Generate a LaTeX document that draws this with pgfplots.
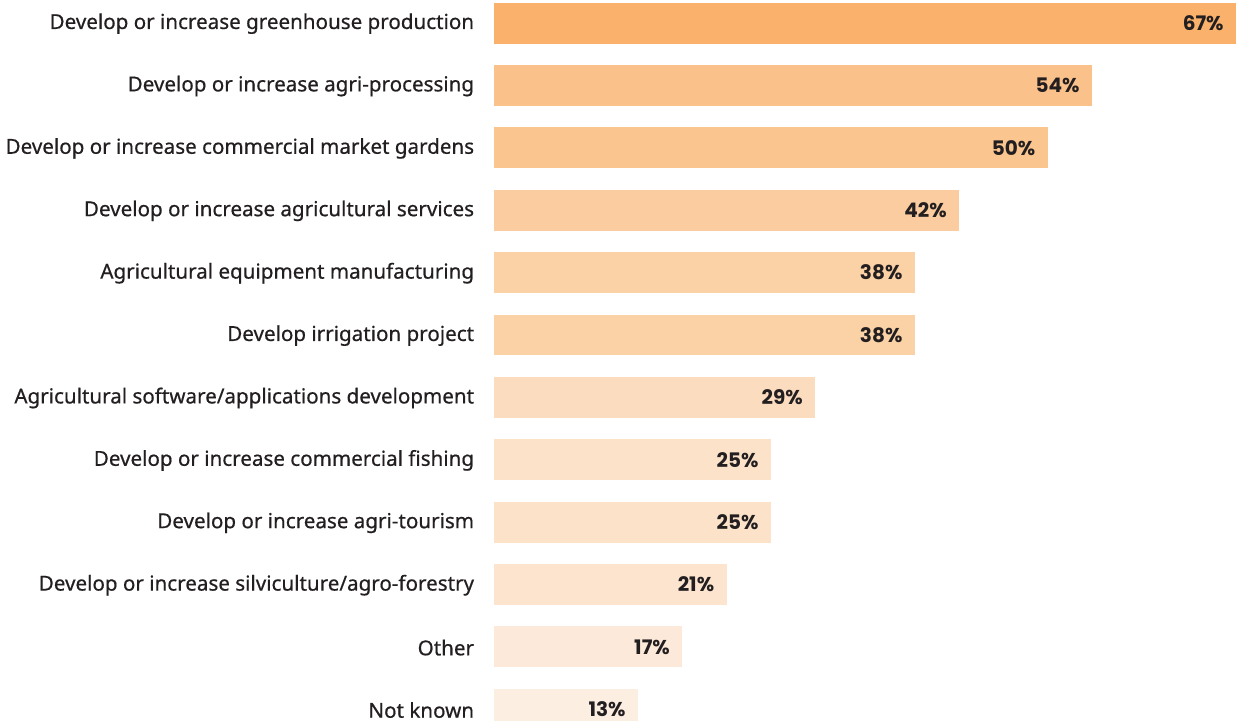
\documentclass[border=0pt]{standalone}
\usepackage{pgfplots}
\pgfplotsset{compat=1.18}
\usepackage{fontspec}
\setmainfont{Noto Sans}[UprightFeatures={FakeBold=0.6}]
\newfontfamily\pctfont{Poppins}

% bar fills, darker for larger shares
\definecolor{c1}{HTML}{F9B16C}
\definecolor{c2}{HTML}{FBC18B}
\definecolor{c3}{HTML}{FBC590}
\definecolor{c4}{HTML}{FACC9F}
\definecolor{c5}{HTML}{FAD2A6}
\definecolor{c6}{HTML}{FAD2A6}
\definecolor{c7}{HTML}{FBDCBF}
\definecolor{c8}{HTML}{FBE2C9}
\definecolor{c9}{HTML}{FBE2C9}
\definecolor{c10}{HTML}{FCE4CF}
\definecolor{c11}{HTML}{FCE9D9}
\definecolor{c12}{HTML}{FDEEE2}
\definecolor{labtext}{HTML}{231F20}

\begin{document}
\begin{tikzpicture}
\begin{axis}[
  at={(247pt,0pt)}, anchor=south west,
  scale only axis,
  width=371pt, height=360.5pt,
  xmin=0, xmax=67,
  ymin=-0.186, ymax=11.369,
  xbar, bar width=0.657, bar shift=0pt,
  hide x axis,
  y axis line style={draw=none},
  ytick={0,...,11},
  yticklabels={Not known, Other,
    Develop or increase silviculture/agro-forestry,
    Develop or increase agri-tourism,
    Develop or increase commercial fishing,
    Agricultural software/applications development,
    Develop irrigation project,
    Agricultural equipment manufacturing,
    Develop or increase agricultural services,
    Develop or increase commercial market gardens,
    Develop or increase agri-processing,
    Develop or increase greenhouse production},
  ytick style={draw=none},
  yticklabel style={font=\fontsize{10.3}{12}\selectfont, text=labtext, anchor=east,
    inner sep=0pt, xshift=-5.5pt, yshift=-0.3pt},
  point meta=x,
  nodes near coords={\pctfont\bfseries\pgfmathprintnumber[assume math mode=true]{\pgfplotspointmeta}\%},
  every node near coord/.append style={anchor=east, xshift=-6pt, inner sep=0pt,
    font=\fontsize{10}{12}\selectfont, text=labtext},
  clip=true,
]
\addplot[fill=c1, draw=none]  coordinates {(67,11)};
\addplot[fill=c2, draw=none]  coordinates {(54,10)};
\addplot[fill=c3, draw=none]  coordinates {(50,9)};
\addplot[fill=c4, draw=none]  coordinates {(42,8)};
\addplot[fill=c5, draw=none]  coordinates {(38,7)};
\addplot[fill=c6, draw=none]  coordinates {(38,6)};
\addplot[fill=c7, draw=none]  coordinates {(29,5)};
\addplot[fill=c8, draw=none]  coordinates {(25,4)};
\addplot[fill=c9, draw=none]  coordinates {(25,3)};
\addplot[fill=c10, draw=none] coordinates {(21,2)};
\addplot[fill=c11, draw=none] coordinates {(17,1)};
\addplot[fill=c12, draw=none] coordinates {(13,0)};
\end{axis}
\pgfresetboundingbox
\path (0pt,0pt) rectangle (618pt,360.5pt);
\end{tikzpicture}
\end{document}
